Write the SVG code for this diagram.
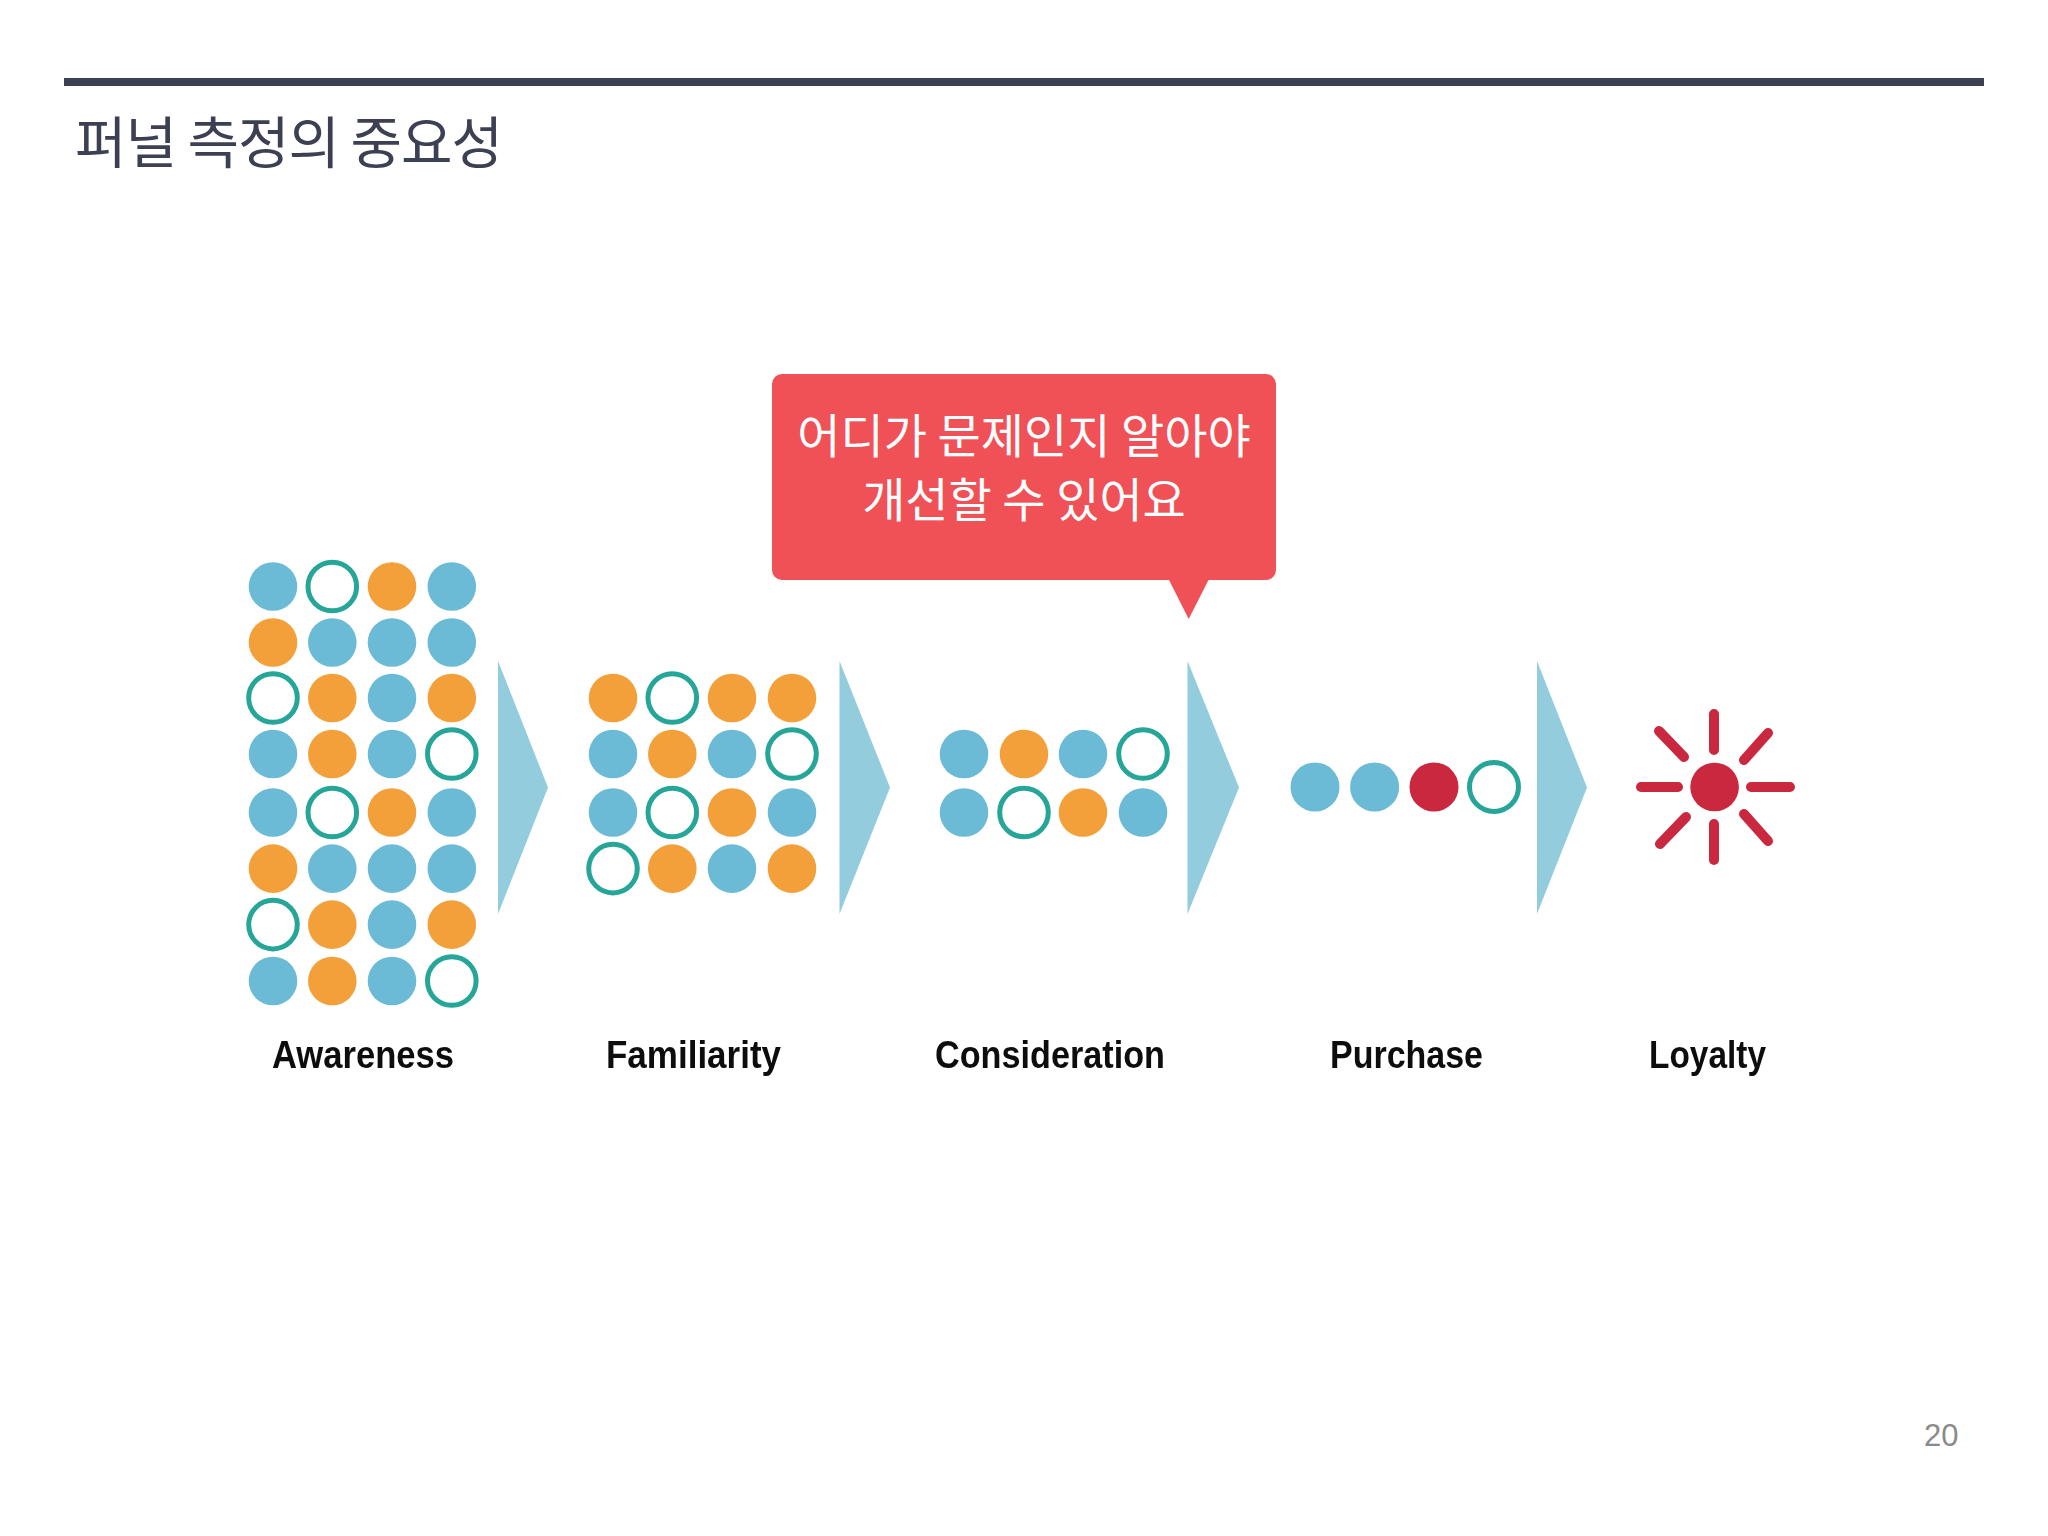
<svg xmlns="http://www.w3.org/2000/svg" width="2048" height="1536" viewBox="0 0 2048 1536">
<defs>
<style>
.b{fill:#6bbbd6}.o{fill:#f3a03a}.d{fill:#c9283e}
.r{fill:#fff;stroke:#26a699;stroke-width:5}
.ray{stroke:#c9283e;stroke-width:10;stroke-linecap:round;fill:none}
.arrow{fill:#93cddd}
.ko{font-family:"Noto Sans CJK KR","Noto Sans",sans-serif}
.lab{font-family:"Liberation Sans",Arial,sans-serif;font-weight:700;font-size:39px;fill:#111;filter:url(#soft)}
.call{font-size:47px;fill:#fff;text-anchor:middle;font-weight:400}
</style>
<filter id="soft" x="-5%" y="-20%" width="110%" height="140%"><feGaussianBlur stdDeviation="0.6"/></filter>
</defs>
<rect width="2048" height="1536" fill="#fff"/>
<g id="header">
<rect x="64" y="78" width="1920" height="8" fill="#3d3f52"/>
<text class="ko" x="75" y="163" font-size="56" fill="#3d3f52" textLength="428" lengthAdjust="spacing">퍼널 측정의 중요성</text>
</g>
<g id="awareness">
<circle class="b" cx="273" cy="586.5" r="24.3"/><circle class="r" cx="332.3" cy="586.5" r="24.3"/><circle class="o" cx="392" cy="586.5" r="24.3"/><circle class="b" cx="451.8" cy="586.5" r="24.3"/>
<circle class="o" cx="273" cy="642.5" r="24.3"/><circle class="b" cx="332.3" cy="642.5" r="24.3"/><circle class="b" cx="392" cy="642.5" r="24.3"/><circle class="b" cx="451.8" cy="642.5" r="24.3"/>
<circle class="r" cx="273" cy="698" r="24.3"/><circle class="o" cx="332.3" cy="698" r="24.3"/><circle class="b" cx="392" cy="698" r="24.3"/><circle class="o" cx="451.8" cy="698" r="24.3"/>
<circle class="b" cx="273" cy="754" r="24.3"/><circle class="o" cx="332.3" cy="754" r="24.3"/><circle class="b" cx="392" cy="754" r="24.3"/><circle class="r" cx="451.8" cy="754" r="24.3"/>
<circle class="b" cx="273" cy="812.5" r="24.3"/><circle class="r" cx="332.3" cy="812.5" r="24.3"/><circle class="o" cx="392" cy="812.5" r="24.3"/><circle class="b" cx="451.8" cy="812.5" r="24.3"/>
<circle class="o" cx="273" cy="868.6" r="24.3"/><circle class="b" cx="332.3" cy="868.6" r="24.3"/><circle class="b" cx="392" cy="868.6" r="24.3"/><circle class="b" cx="451.8" cy="868.6" r="24.3"/>
<circle class="r" cx="273" cy="924.6" r="24.3"/><circle class="o" cx="332.3" cy="924.6" r="24.3"/><circle class="b" cx="392" cy="924.6" r="24.3"/><circle class="o" cx="451.8" cy="924.6" r="24.3"/>
<circle class="b" cx="273" cy="981" r="24.3"/><circle class="o" cx="332.3" cy="981" r="24.3"/><circle class="b" cx="392" cy="981" r="24.3"/><circle class="r" cx="451.8" cy="981" r="24.3"/>
<text class="lab" x="272" y="1068" textLength="182" lengthAdjust="spacingAndGlyphs">Awareness</text>
</g>
<g id="familiarity">
<circle class="o" cx="613" cy="698" r="24.3"/><circle class="r" cx="672.3" cy="698" r="24.3"/><circle class="o" cx="732" cy="698" r="24.3"/><circle class="o" cx="792" cy="698" r="24.3"/>
<circle class="b" cx="613" cy="754" r="24.3"/><circle class="o" cx="672.3" cy="754" r="24.3"/><circle class="b" cx="732" cy="754" r="24.3"/><circle class="r" cx="792" cy="754" r="24.3"/>
<circle class="b" cx="613" cy="812.5" r="24.3"/><circle class="r" cx="672.3" cy="812.5" r="24.3"/><circle class="o" cx="732" cy="812.5" r="24.3"/><circle class="b" cx="792" cy="812.5" r="24.3"/>
<circle class="r" cx="613" cy="868.6" r="24.3"/><circle class="o" cx="672.3" cy="868.6" r="24.3"/><circle class="b" cx="732" cy="868.6" r="24.3"/><circle class="o" cx="792" cy="868.6" r="24.3"/>
<text class="lab" x="606" y="1068" textLength="175" lengthAdjust="spacingAndGlyphs">Familiarity</text>
</g>
<g id="consideration">
<circle class="b" cx="964" cy="754" r="24.3"/><circle class="o" cx="1024" cy="754" r="24.3"/><circle class="b" cx="1083" cy="754" r="24.3"/><circle class="r" cx="1143" cy="754" r="24.3"/>
<circle class="b" cx="964" cy="812.5" r="24.3"/><circle class="r" cx="1024" cy="812.5" r="24.3"/><circle class="o" cx="1083" cy="812.5" r="24.3"/><circle class="b" cx="1143" cy="812.5" r="24.3"/>
<text class="lab" x="935" y="1068" textLength="230" lengthAdjust="spacingAndGlyphs">Consideration</text>
</g>
<g id="purchase">
<circle class="b" cx="1315" cy="787" r="24.5"/><circle class="b" cx="1374.6" cy="787" r="24.5"/><circle class="d" cx="1434" cy="787" r="24.5"/><circle class="r" cx="1494" cy="787" r="24.5"/>
<text class="lab" x="1330" y="1068" textLength="153" lengthAdjust="spacingAndGlyphs">Purchase</text>
</g>
<g id="loyalty">
<circle class="d" cx="1714.6" cy="787" r="24.3"/>
<path class="ray" d="M1714 714V750M1714 824V860M1641 787H1678M1751 787H1790M1659 731L1684 757M1768 733L1744 760M1686 817L1660 844M1744 814L1768 841"/>
<text class="lab" x="1649" y="1068" textLength="117" lengthAdjust="spacingAndGlyphs">Loyalty</text>
</g>
<g id="connectors">
<polygon class="arrow" points="498,661 548,787.5 498,914"/>
<polygon class="arrow" points="839.5,661 890,787.5 839.5,914"/>
<polygon class="arrow" points="1187.5,661 1239,787.5 1187.5,914"/>
<polygon class="arrow" points="1537,661 1587,787.5 1537,914"/>
</g>
<g id="callout">
<path fill="#f05157" d="M782 374H1266a10 10 0 0 1 10 10V570a10 10 0 0 1 -10 10H1208.5L1188.7 619L1169 580H782a10 10 0 0 1 -10 -10V384a10 10 0 0 1 10 -10Z"/>
<text class="ko call" x="1024" y="453">어디가 문제인지 알아야</text>
<text class="ko call" x="1024" y="517">개선할 수 있어요</text>
</g>
<text id="page" x="1924" y="1446" font-family="'Liberation Sans',Arial,sans-serif" font-size="31" fill="#8a8a8a">20</text>
</svg>
